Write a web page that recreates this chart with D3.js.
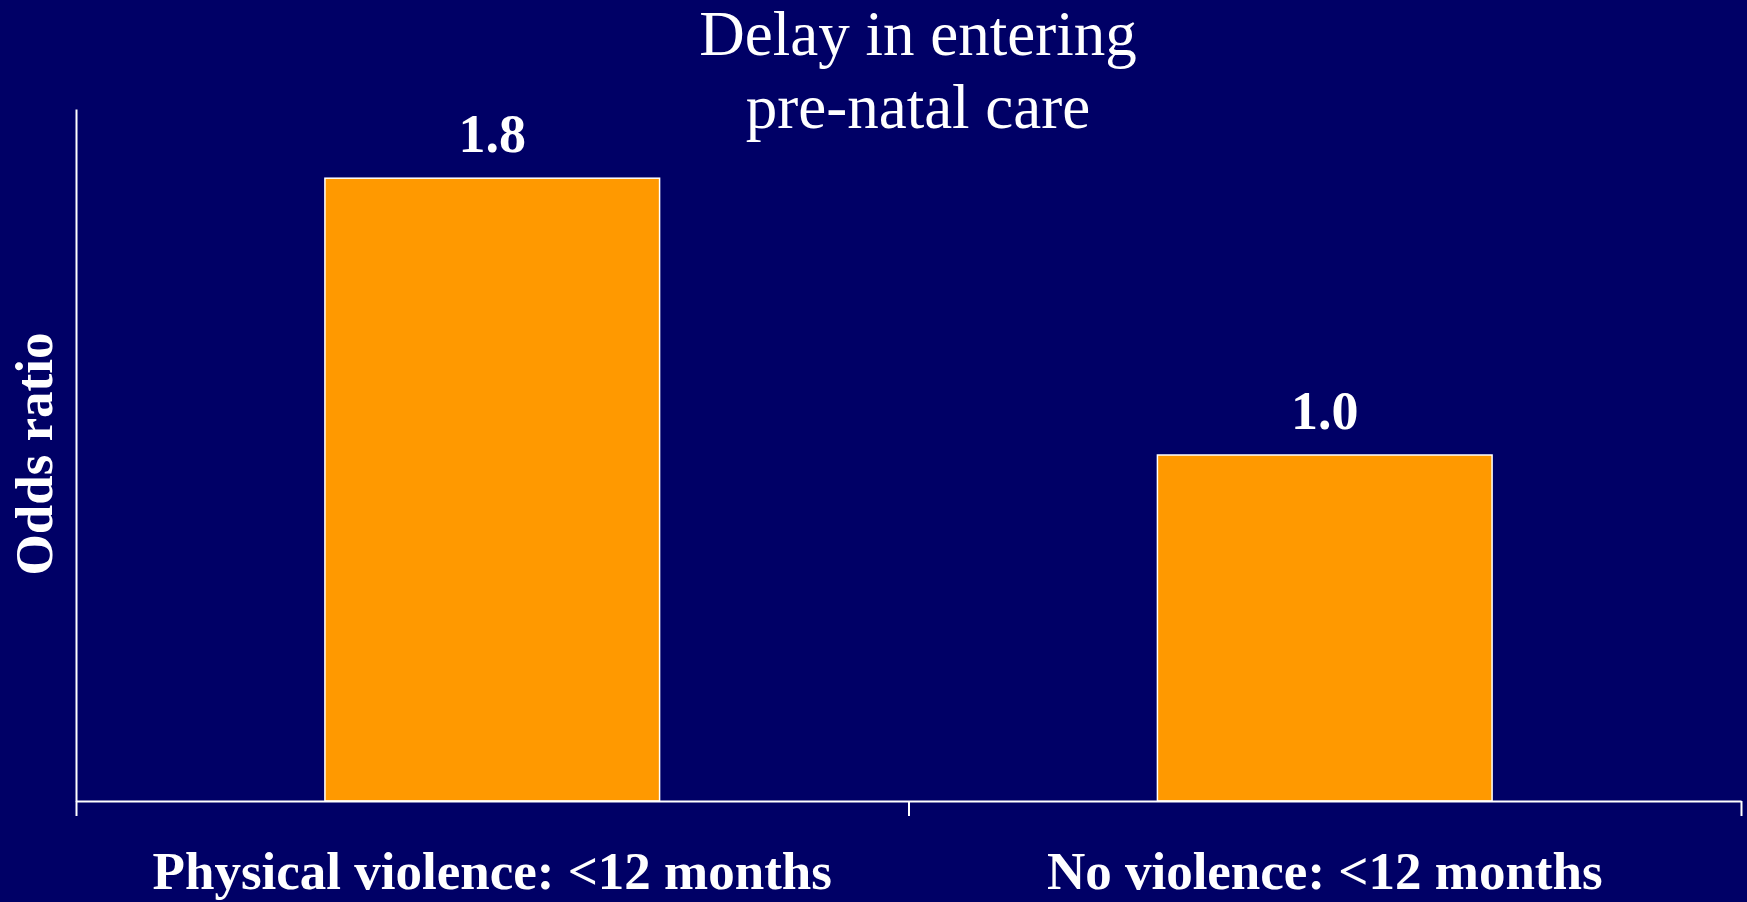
<!DOCTYPE html>
<html>
<head>
<meta charset="utf-8">
<script src="https://cdn.jsdelivr.net/npm/d3@7"></script>
<style>
  html, body { margin: 0; padding: 0; background: #000066; }
  svg { display: block; }
  text { font-family: "Liberation Serif", "Times New Roman", serif; fill: #ffffff; }
</style>
</head>
<body>
<svg id="chart" width="1747" height="902"></svg>
<script>
// Odds ratio of delayed entry into pre-natal care
const categories = ["Physical violence: <12 months", "No violence: <12 months"];
const oddsRatios = [1.8, 1.0];
const valueLabels = ["1.8", "1.0"];
const titleLines = ["Delay in entering", "pre-natal care"];
const yAxisTitle = "Odds ratio";

const W = 1747, H = 902;
const margin = { left: 76, right: 6, top: 109, bottom: 101 };
const x0 = margin.left, x1 = W - margin.right;
const yBase = H - margin.bottom, yTop = margin.top;

const svg = d3.select("#chart");

svg.append("rect").attr("width", W).attr("height", H).attr("fill", "#000066");

const x = d3.scaleBand()
  .domain(categories)
  .range([x0, x1])
  .paddingInner(0.598)
  .paddingOuter(0.299);

const y = d3.scaleLinear().domain([0, 2]).range([yBase, yTop]);

// category boundaries for the tick marks on the x axis
const xEdges = d3.scaleLinear().domain([0, categories.length]).range([x0, x1]);

// bars
svg.append("g").selectAll("rect")
  .data(categories)
  .join("rect")
  .attr("x", d => x(d))
  .attr("y", (d, i) => y(oddsRatios[i]))
  .attr("width", x.bandwidth())
  .attr("height", (d, i) => y(0) - y(oddsRatios[i]))
  .attr("fill", "#ff9900")
  .attr("stroke", "#ffffff")
  .attr("stroke-width", 1.5);

// value labels
svg.append("g").selectAll("text")
  .data(categories)
  .join("text")
  .attr("x", d => x(d) + x.bandwidth() / 2)
  .attr("y", (d, i) => y(oddsRatios[i]) - 26)
  .attr("text-anchor", "middle")
  .attr("font-weight", "bold")
  .attr("font-size", 54)
  .text((d, i) => valueLabels[i]);

// x axis
const xAxis = svg.append("g")
  .attr("transform", `translate(0,${yBase})`)
  .call(d3.axisBottom(xEdges)
    .tickValues(d3.range(categories.length + 1))
    .tickFormat("")
    .tickSize(15)
    .tickSizeOuter(0));
xAxis.selectAll("path, line").attr("stroke", "#ffffff").attr("stroke-width", 2);

// y axis (line only)
const yAxis = svg.append("g")
  .attr("transform", `translate(${x0},0)`)
  .call(d3.axisLeft(y).tickValues([]).tickSizeOuter(0));
yAxis.selectAll("path").attr("stroke", "#ffffff").attr("stroke-width", 2);

// category labels
svg.append("g").selectAll("text")
  .data(categories)
  .join("text")
  .attr("x", d => x(d) + x.bandwidth() / 2)
  .attr("y", 889)
  .attr("text-anchor", "middle")
  .attr("font-weight", "bold")
  .attr("font-size", 53)
  .text(d => d);

// y axis title
svg.append("text")
  .attr("transform", "translate(52,454) rotate(-90)")
  .attr("text-anchor", "middle")
  .attr("font-weight", "bold")
  .attr("font-size", 53)
  .text(yAxisTitle);

// chart title
svg.append("g").selectAll("text")
  .data(titleLines)
  .join("text")
  .attr("x", 918)
  .attr("y", (d, i) => 55 + i * 73)
  .attr("text-anchor", "middle")
  .attr("font-size", 63)
  .text(d => d);
</script>
</body>
</html>
